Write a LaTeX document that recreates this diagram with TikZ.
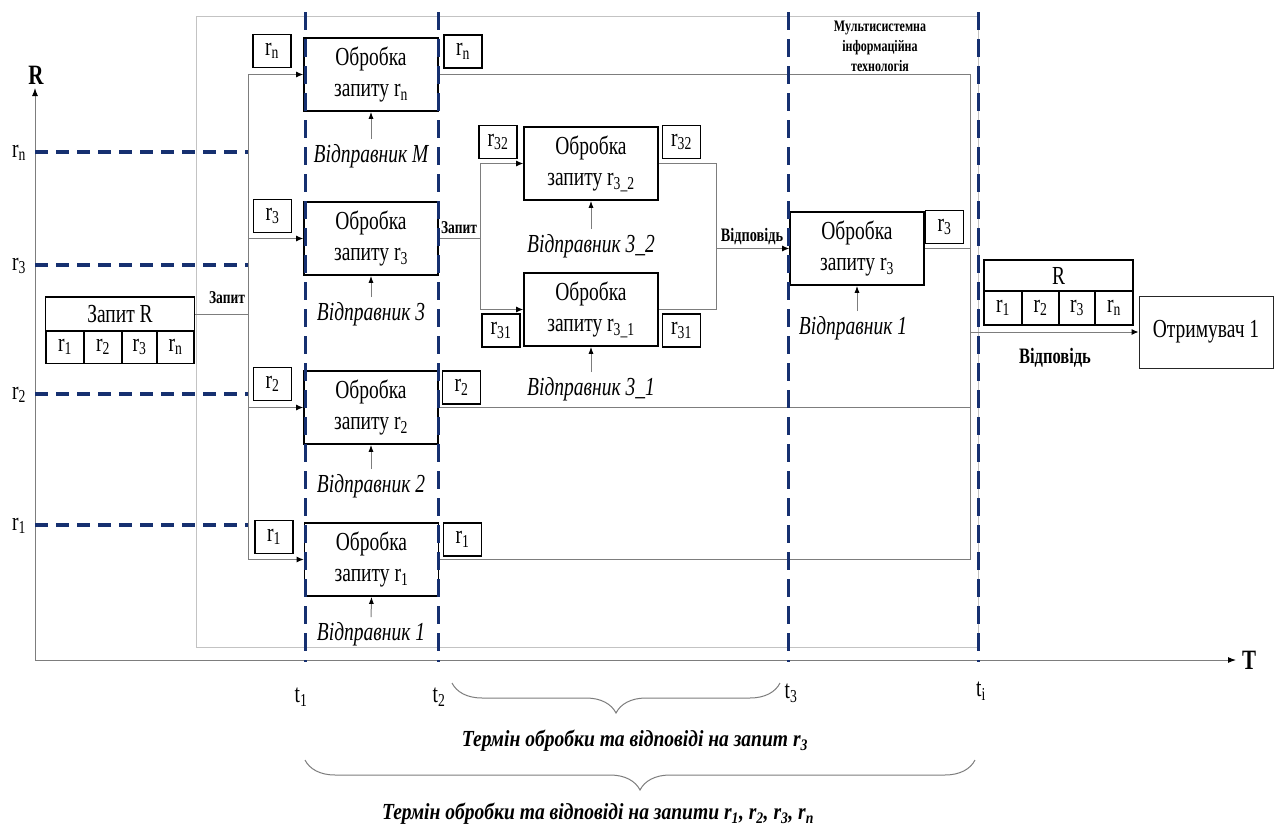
\documentclass[tikz,border=0pt]{standalone}
\usepackage{fontspec}
\setmainfont{Liberation Serif}[FakeStretch=0.75]
\newfontfamily\condfont{Liberation Serif}[FakeStretch=0.85]
\usetikzlibrary{arrows.meta,decorations.pathreplacing}
\definecolor{navy}{RGB}{22,48,112}
\definecolor{lgray}{RGB}{195,195,195}
\definecolor{mgray}{RGB}{125,125,125}
\begin{document}
\begin{tikzpicture}[x=1pt,y=-1pt,
  proc/.style={draw,line width=1.6pt,minimum width=134pt,minimum height=73pt,inner sep=0pt,align=center,font=\fontsize{26}{31}\selectfont},
  lab/.style={draw,line width=1.6pt,minimum width=38pt,minimum height=33pt,inner sep=0pt,font=\fontsize{26}{26}\selectfont},
  cell/.style={draw,line width=1.6pt,minimum height=33pt,inner sep=0pt,font=\fontsize{26}{26}\selectfont},
  sender/.style={inner sep=1pt,font=\itshape\fontsize{26}{26}\selectfont},
  blab/.style={inner sep=1pt,font=\bfseries\fontsize{18}{20}\selectfont,align=center},
  conn/.style={draw=mgray,line width=1pt},
  arr/.style={conn,-{Latex[length=7pt,width=6pt,color=black]}},
  sarr/.style={draw=mgray,line width=1pt,-{Latex[length=7pt,width=5pt,color=black]},shorten <=4pt},
  dashh/.style={draw=navy,line width=3.4pt,dash pattern=on 13pt off 8pt},
  dashv/.style={draw=navy,line width=3pt,dash pattern=on 18pt off 9pt},
  axlab/.style={inner sep=0pt,font=\fontsize{26}{26}\selectfont},
  brc/.style={draw=mgray,line width=1pt,decorate,decoration={brace,mirror,amplitude=30pt}},
  bottomtext/.style={inner sep=1pt,font=\condfont\bfseries\itshape\fontsize{23}{26}\selectfont},
]
\useasboundingbox (0,0) rectangle (1274,830);

% outer container
\draw[lgray,line width=1pt] (196,16) rectangle (978,647);
\node[blab,font=\bfseries\fontsize{16}{20}\selectfont] (mit) at (880,46) {Мультисистемна\\інформаційна\\технологія};

% axes
\coordinate (O) at (35,660);
\coordinate (Rtop) at (35,88);
\coordinate (Tend) at (1236,660);
\draw[conn,-{Latex[length=8pt,width=6pt,color=black]}] (O) -- (Rtop);
\draw[conn,-{Latex[length=8pt,width=6pt,color=black]}] (O) -- (Tend);
\node[axlab,font=\bfseries\fontsize{28}{28}\selectfont] (Rl) at (36,75) {R};
\node[axlab,font=\bfseries\fontsize{28}{28}\selectfont] (Tl) at (1249,660) {T};

% axis labels
\node[axlab] (arn) at (19,153) {r\textsubscript{n}};
\node[axlab] (ar3) at (19,266) {r\textsubscript{3}};
\node[axlab] (ar2) at (19,395) {r\textsubscript{2}};
\node[axlab] (ar1) at (19,526) {r\textsubscript{1}};
\node[axlab] (t1) at (301,697) {t\textsubscript{1}};
\node[axlab] (t2) at (439,697) {t\textsubscript{2}};
\node[axlab] (t3) at (791,693) {t\textsubscript{3}};
\node[axlab] (ti) at (981,691) {t\textsubscript{i}};

% request R
\node[draw,line width=1.6pt,minimum width=149pt,minimum height=34pt,inner sep=0pt,font=\fontsize{26}{26}\selectfont] (reqR) at (120,314) {Запит R};
\node[cell,minimum width=38pt] (q1) at (65,347) {r\textsubscript{1}};
\node[cell,minimum width=38pt] (q2) at (103,347) {r\textsubscript{2}};
\node[cell,minimum width=35pt] (q3) at (139.5,347) {r\textsubscript{3}};
\node[cell,minimum width=37pt] (q4) at (175.5,347) {r\textsubscript{n}};

% processing boxes
\node[proc] (pn) at (371,74.5) {Обробка\\запиту r\textsubscript{n}};
\node[proc] (p3) at (371,238.5) {Обробка\\запиту r\textsubscript{3}};
\node[proc] (p2) at (371,407.5) {Обробка\\запиту r\textsubscript{2}};
\node[proc] (p1) at (371.5,559.5) {Обробка\\запиту r\textsubscript{1}};
\node[proc] (p32) at (591,163.5) {Обробка\\запиту r\textsubscript{3\_2}};
\node[proc] (p31) at (591,309.5) {Обробка\\запиту r\textsubscript{3\_1}};
\node[proc] (p3b) at (857,248.5) {Обробка\\запиту r\textsubscript{3}};

% small label boxes
\node[lab] (lnl) at (272,51) {r\textsubscript{n}};
\node[lab] (l3l) at (272.5,216) {r\textsubscript{3}};
\node[lab] (l2l) at (272.5,384) {r\textsubscript{2}};
\node[lab] (l1l) at (274,537) {r\textsubscript{1}};
\node[lab] (lnr) at (463,51.5) {r\textsubscript{n}};
\node[lab] (l2r) at (461.5,387.5) {r\textsubscript{2}};
\node[lab] (l1r) at (462.5,539.5) {r\textsubscript{1}};
\node[lab] (l32l) at (498,142) {r\textsubscript{32}};
\node[lab] (l32r) at (681.5,142) {r\textsubscript{32}};
\node[lab] (l31l) at (501,330.5) {r\textsubscript{31}};
\node[lab] (l31r) at (681.5,330.5) {r\textsubscript{31}};
\node[lab] (l3br) at (944.5,227) {r\textsubscript{3}};

% senders
\node[sender] (sM) at (371,156) {Відправник M};
\node[sender] (s3) at (371,314) {Відправник 3};
\node[sender] (s2) at (371,486) {Відправник 2};
\node[sender] (s1) at (371,634) {Відправник 1};
\node[sender] (s32) at (591,246) {Відправник 3\_2};
\node[sender] (s31) at (591,389) {Відправник 3\_1};
\node[sender] (s1b) at (853,328) {Відправник 1};
\draw[sarr] (sM.north) -- (pn.south);
\draw[sarr] (s3.north) -- (p3.south);
\draw[sarr] (s2.north) -- (p2.south);
\draw[sarr] (s1.north) -- (p1.south);
\draw[sarr] (s32.north) -- (p32.south);
\draw[sarr] (s31.north) -- (p31.south);
\draw[sarr] (s1b.north -| p3b.south) -- (p3b.south);

% result R and receiver
\node[draw,line width=1.6pt,minimum width=149pt,minimum height=31pt,inner sep=0pt,font=\fontsize{26}{26}\selectfont] (Rres) at (1058.5,275.5) {R};
\node[cell,minimum width=38pt,minimum height=34pt] (o1) at (1003,308) {r\textsubscript{1}};
\node[cell,minimum width=37pt,minimum height=34pt] (o2) at (1040.5,308) {r\textsubscript{2}};
\node[cell,minimum width=36pt,minimum height=34pt] (o3) at (1077,308) {r\textsubscript{3}};
\node[cell,minimum width=38pt,minimum height=34pt] (o4) at (1114,308) {r\textsubscript{n}};
\node[draw=black!85,line width=1pt,minimum width=134pt,minimum height=72pt,inner sep=0pt,font=\fontsize{26}{26}\selectfont] (recv) at (1206,332) {Отримувач 1};

% connectors: fan-out
\coordinate (jn) at (248,74.5);
\coordinate (j1) at (248,559.5);
\draw[conn] (reqR.east) -- (reqR.east -| jn);
\draw[conn] (jn) -- (j1);
\draw[arr] (jn) -- (pn.west);
\draw[arr] (jn |- p3.west) -- (p3.west);
\draw[arr] (jn |- p2.west) -- (p2.west);
\draw[arr] (j1) -- (p1.west);
\node[blab] (zap1) at (227,298) {Запит};

% middle branch
\coordinate (k) at (480,238.5);
\draw[conn] (p3.east) -- (k);
\draw[conn] (k |- p32.west) -- (k |- p31.west);
\draw[arr] (k |- p32.west) -- (p32.west);
\draw[arr] (k |- p31.west) -- (p31.west);
\node[blab] (zap2) at (459,228) {Запит};

\coordinate (m) at (716,248.5);
\draw[conn] (p32.east) -- (p32.east -| m) -- (p31.east -| m) -- (p31.east);
\draw[arr] (m) -- (p3b.west);
\node[blab,font=\bfseries\fontsize{19}{20}\selectfont] (vid1) at (752,237) {Відповідь};

% collection
\coordinate (e) at (970,332);
\draw[conn] (pn.east) -- (pn.east -| e) -- (p1.east -| e) -- (p1.east);
\draw[conn] (p3b.east) -- (p3b.east -| e);
\draw[conn] (p2.east) -- (p2.east -| e);
\draw[arr] (e) -- (recv.west);
\node[blab,font=\bfseries\fontsize{22}{22}\selectfont] (vid2) at (1055,358) {Відповідь};

% dashed horizontal guides
\draw[dashh] (35,152) -- (248,152);
\draw[dashh] (35,265) -- (248,265);
\draw[dashh] (35,394) -- (248,394);
\draw[dashh] (35,525) -- (248,525);

% dashed vertical time lines
\draw[dashv] (305,12) -- (305,662);
\draw[dashv] (438,12) -- (438,662);
\draw[dashv] (788,12) -- (788,662);
\draw[dashv] (978,12) -- (978,662);

% braces
\draw[brc] (452,683) -- (780,683);
\node[bottomtext] (b1) at (635,741) {Термін обробки та відповіді на запит r\textsubscript{3}};
\draw[brc] (305,760) -- (975,760);
\node[bottomtext] (b2) at (598,814) {Термін обробки та відповіді на запити r\textsubscript{1}, r\textsubscript{2}, r\textsubscript{3}, r\textsubscript{n}};
\end{tikzpicture}
\end{document}
